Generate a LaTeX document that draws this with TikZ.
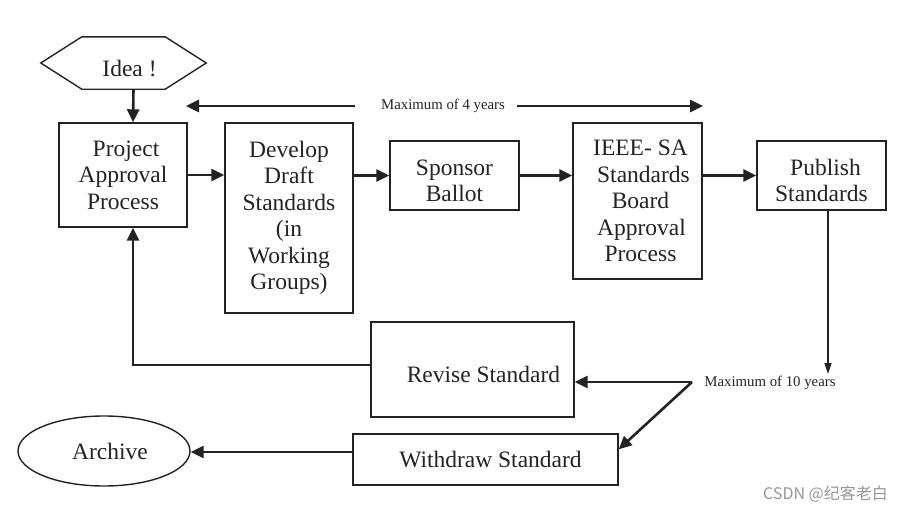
\documentclass[tikz,border=0pt]{standalone}
\usepackage{fontspec}
\setmainfont{Liberation Serif}
\newfontfamily\cjkfont{Noto Sans CJK SC}
\usetikzlibrary{arrows.meta,shapes.geometric,calc}
\definecolor{ink}{RGB}{35,35,35}
\definecolor{wm}{RGB}{150,150,150}
\newcommand{\topstrut}[1]{\rule{0pt}{#1}}
\tikzset{
  box/.style={draw=ink, line width=1.4pt, rectangle, inner sep=0pt, align=center,
    text=ink, font=\fontsize{23.5}{26.5}\selectfont},
  conn/.style={draw=ink, line width=2.6pt, -{Triangle[length=13pt,width=12pt]}},
  thinconn/.style={draw=ink, line width=1.6pt, -{Triangle[length=11pt,width=7pt]}},
  small/.style={text=ink, font=\fontsize{14.8}{16}\selectfont, inner sep=0pt}
}
\begin{document}
\begin{tikzpicture}[x=1pt,y=-1pt]
\useasboundingbox (0,0) rectangle (900,514);
% Idea hexagon
\node[inner sep=0pt, minimum width=165pt, minimum height=52pt, text=ink,
  font=\fontsize{23.5}{26.5}\selectfont] (idea) at (123.5,63) {\hspace*{12pt}\topstrut{27pt}Idea !};
\draw[draw=ink, line width=1.4pt] (idea.west) -- ([xshift=41pt]idea.north west)
  -- ([xshift=-41pt]idea.north east) -- (idea.east)
  -- ([xshift=-41pt]idea.south east) -- ([xshift=41pt]idea.south west) -- cycle;
% boxes
\node[box, minimum width=128pt, minimum height=104pt] (proj) at (123,175) {\hspace*{6pt}Project\\Approval\\Process};
\node[box, minimum width=128pt, minimum height=190pt] (dev) at (289,218) {Develop\\Draft\\Standards\\(in\\Working\\Groups)};
\node[box, minimum width=129pt, minimum height=69pt] (spon) at (454.5,175.5) {\topstrut{26pt}Sponsor\\Ballot};
\node[box, minimum width=129pt, minimum height=156pt] (ieee) at (637.5,201) {\hspace*{6pt}IEEE- SA\\\hspace*{12pt}Standards\\\hspace*{6pt}Board\\\hspace*{8pt}Approval\\\hspace*{6pt}Process};
\node[box, minimum width=129pt, minimum height=69pt] (pub) at (821.5,175.5) {\hspace*{8pt}\topstrut{26pt}Publish\\Standards};
\node[box, minimum width=203pt, minimum height=95pt] (rev) at (472.5,369.5) {\hspace*{22pt}\topstrut{26.5pt}Revise Standard};
\node[box, minimum width=265pt, minimum height=51pt] (wd) at (485.5,459.5) {\hspace*{10pt}Withdraw Standard};
\node[box, ellipse, minimum width=172pt, minimum height=70pt] (arch) at (104,451) {\hspace*{12pt}Archive};
% labels
\node[small] (m4) at (443,106) {Maximum of 4 years};
\node[small] (m10) at (770,383) {Maximum of 10 years};
\coordinate (a4l) at (355,106);
\coordinate (t4l) at (186,106);
\coordinate (a4r) at (517,106);
\coordinate (t4r) at (703,106);
\coordinate (pubend) at (828,374);
\coordinate (j) at (692,382);
% connectors
\draw[conn] ([xshift=10pt]idea.south) -- ([xshift=10pt]proj.north);
\draw[conn] (proj.east) -- (proj.east -| dev.west);
\draw[conn] (dev.east |- spon.west) -- (spon.west);
\draw[conn] (spon.east) -- (spon.east -| ieee.west);
\draw[conn] (ieee.east |- pub.west) -- (pub.west);
\draw[conn] (a4l) -- (t4l);
\draw[conn] (a4r) -- (t4r);
\draw[thinconn] ([xshift=6.5pt]pub.south) -- (pubend);
\draw[conn] (j) -- (j -| rev.east);
\draw[conn] (j) -- ([yshift=-16pt]wd.north east);
\draw[conn] ([yshift=4.5pt]rev.west) -| ([xshift=10pt]proj.south);
\draw[conn] ([yshift=7.5pt]wd.west) -- ([yshift=7.5pt]wd.west -| arch.east);
% watermark
\node[text=wm, font=\cjkfont\fontsize{16}{18}\selectfont, inner sep=0pt, anchor=east] (csdn) at (888,494) {CSDN @纪客老白};
\end{tikzpicture}
\end{document}
